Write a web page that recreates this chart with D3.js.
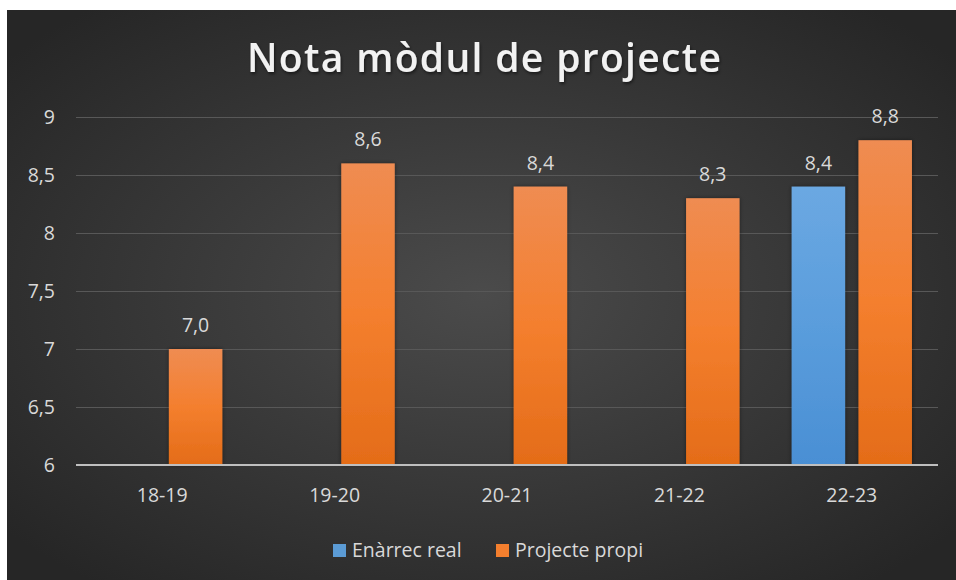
<!DOCTYPE html>
<html>
<head>
<meta charset="utf-8">
<script src="https://cdn.jsdelivr.net/npm/d3@7"></script>
<style>
  html, body { margin: 0; padding: 0; background: #fff; }
  svg { display: block; }
  text { font-family: "Open Sans", "Noto Sans", sans-serif; }
</style>
</head>
<body>
<div id="canvas"></div>
<script>
// data
var categories = ['18-19', '19-20', '20-21', '21-22', '22-23'];
var seriesNames = ['Enàrrec real', 'Projecte propi'];
var enarrecReal = [null, null, null, null, 8.4];
var projectePropi = [7.0, 8.6, 8.4, 8.3, 8.8];
var yTicks = [6, 6.5, 7, 7.5, 8, 8.5, 9];

var W = 956, H = 580;
var m = {t:117, r:18, b:115, l:76};
var labelSize = 19.5;

var svg = d3.select('#canvas').append('svg')
    .attr('width', W).attr('height', H);

var defs = svg.append('defs');

var bg = defs.append('radialGradient').attr('id','bg')
    .attr('cx','50%').attr('cy','50%').attr('r','65%');
bg.append('stop').attr('offset','0%').attr('stop-color','#4b4b4b');
bg.append('stop').attr('offset','100%').attr('stop-color','#262626');

function barGrad(id, top, mid, bot){
    var g = defs.append('linearGradient').attr('id',id)
        .attr('x1',0).attr('y1',0).attr('x2',0).attr('y2',1);
    g.append('stop').attr('offset','0%').attr('stop-color',top);
    g.append('stop').attr('offset','50%').attr('stop-color',mid);
    g.append('stop').attr('offset','100%').attr('stop-color',bot);
}
barGrad('gBlue','#6ba8e2','#5a9ddc','#4a8fd4');
barGrad('gOrange','#ef8c52','#f47f2e','#e46c18');

var sh = defs.append('filter').attr('id','shadow')
    .attr('x','-10%').attr('y','-20%').attr('width','120%').attr('height','160%');
sh.append('feDropShadow').attr('dx',1).attr('dy',2).attr('stdDeviation',1.5)
    .attr('flood-color','#000').attr('flood-opacity',0.5);

var bsh = defs.append('filter').attr('id','barshadow')
    .attr('x','-20%').attr('y','-5%').attr('width','140%').attr('height','110%');
bsh.append('feDropShadow').attr('dx',0).attr('dy',0).attr('stdDeviation',2)
    .attr('flood-color','#000').attr('flood-opacity',0.45);

// background panel
svg.append('rect').attr('x',7).attr('y',10)
    .attr('width',W-7).attr('height',H-10)
    .attr('fill','url(#bg)');

// title
svg.append('text')
    .attr('x', 484).attr('y', 72)
    .attr('text-anchor','middle')
    .attr('fill','#f2f2f2')
    .attr('font-size', 39)
    .attr('font-weight', 600)
    .attr('textLength', 474)
    .attr('lengthAdjust', 'spacing')
    .attr('filter','url(#shadow)')
    .text('Nota mòdul de projecte');

var plotW = W - m.l - m.r, plotH = H - m.t - m.b;
var plot = svg.append('g').attr('transform','translate('+m.l+','+m.t+')');

var x0 = d3.scaleBand().domain(categories).range([0, plotW]).padding(0);
var x1 = d3.scaleBand().domain(seriesNames).range([0, x0.bandwidth()])
    .paddingInner(0.2).paddingOuter(0.39);
var y = d3.scaleLinear().domain([6, 9]).range([plotH, 0]);

var fmt = function(v){ return String(v).replace('.', ','); };

// gridlines + y labels
var axisY = d3.axisLeft(y).tickValues(yTicks).tickSize(-plotW).tickFormat(fmt);
var gy = plot.append('g').attr('class','axis-y').call(axisY);
gy.select('.domain').remove();
gy.selectAll('.tick line').attr('stroke','#585858').attr('stroke-width',1);
gy.selectAll('.tick text').attr('x',-21).attr('fill','#d9d9d9')
    .attr('font-size',labelSize).attr('font-family','"Open Sans", sans-serif');

// x axis
var axisX = d3.axisBottom(x0).tickSize(0).tickPadding(23);
var gx = plot.append('g').attr('transform','translate(0,'+plotH+')').call(axisX);
gx.select('.domain').remove();
gx.selectAll('.tick text').attr('fill','#d9d9d9').attr('font-size',labelSize)
    .attr('font-family','"Open Sans", sans-serif');

// bars
var rows = categories.map(function(c, i){
    return {cat:c, values:[
        {name:seriesNames[0], v:enarrecReal[i], fill:'url(#gBlue)'},
        {name:seriesNames[1], v:projectePropi[i], fill:'url(#gOrange)'}
    ].filter(function(d){ return d.v != null; })};
});

var groups = plot.selectAll('.grp').data(rows).enter().append('g')
    .attr('class','grp')
    .attr('transform', function(d){ return 'translate('+x0(d.cat)+',0)'; });

groups.selectAll('rect').data(function(d){ return d.values; }).enter().append('rect')
    .attr('x', function(d){ return x1(d.name); })
    .attr('y', function(d){ return y(d.v); })
    .attr('width', x1.bandwidth())
    .attr('height', function(d){ return plotH - y(d.v); })
    .attr('fill', function(d){ return d.fill; })
    .attr('filter','url(#barshadow)');

groups.selectAll('.lbl').data(function(d){ return d.values; }).enter().append('text')
    .attr('class','lbl')
    .attr('x', function(d){ return x1(d.name) + x1.bandwidth()/2; })
    .attr('y', function(d){ return y(d.v) - 17; })
    .attr('text-anchor','middle')
    .attr('fill','#d9d9d9')
    .attr('font-size',labelSize)
    .text(function(d){ return d3.format('.1f')(d.v).replace('.', ','); });

// baseline
plot.append('line').attr('x1',0).attr('x2',plotW)
    .attr('y1',plotH).attr('y2',plotH)
    .attr('stroke','#bfbfbf').attr('stroke-width',2);

// legend
var legend = svg.append('g').attr('transform','translate(333,557)');
var legendColors = ['#5b9bd5', '#f47f2e'];
var lx = [0, 163];
seriesNames.forEach(function(n, i){
    var g = legend.append('g').attr('transform','translate('+lx[i]+',0)');
    g.append('rect').attr('x',0).attr('y',-13).attr('width',13).attr('height',13)
        .attr('fill',legendColors[i]);
    g.append('text').attr('x',19).attr('y',0).attr('fill','#d9d9d9')
        .attr('font-size',labelSize).text(n);
});
</script>
</body>
</html>
